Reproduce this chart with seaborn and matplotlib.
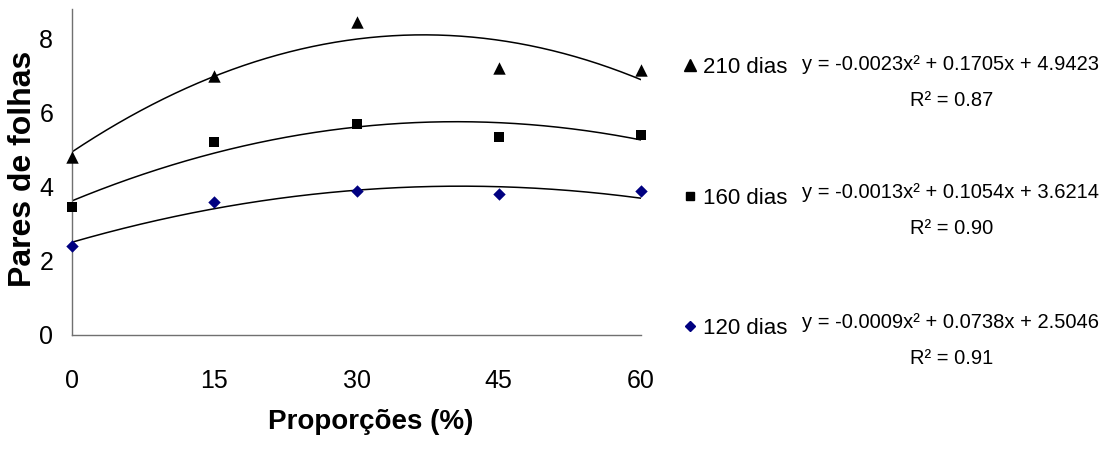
import matplotlib
matplotlib.use("Agg")
import matplotlib.pyplot as plt
from matplotlib.lines import Line2D
import numpy as np
import pandas as pd
import seaborn as sns

# Proportions (%) on the x axis
proporcoes = [0, 15, 30, 45, 60]

# Mean number of leaf pairs at each evaluation date
folhas_210 = [4.8, 7.0, 8.45, 7.2, 7.15]
folhas_160 = [3.45, 5.2, 5.7, 5.35, 5.4]
folhas_120 = [2.4, 3.6, 3.9, 3.8, 3.9]

# Quadratic fit coefficients (a, b, c) for y = a*x^2 + b*x + c, and R^2
coef_210 = [-0.0023, 0.1705, 4.9423]
coef_160 = [-0.0013, 0.1054, 3.6214]
coef_120 = [-0.0009, 0.0738, 2.5046]
r2_values = [0.87, 0.90, 0.91]

series_labels = ["210 dias", "160 dias", "120 dias"]
y_ticks = [0, 2, 4, 6, 8]

sns.set_theme(style="white")
plt.rcParams["font.family"] = ["Liberation Sans", "DejaVu Sans"]
plt.rcParams["text.color"] = "black"
plt.rcParams["axes.labelcolor"] = "black"

W, H = 1109, 455
fig = plt.figure(figsize=(W / 100, H / 100), dpi=100)
ax = fig.add_axes([72 / W, (H - 335) / H, (641 - 72) / W, (335 - 9) / H])

series = [
    ("210 dias", folhas_210, coef_210, "^", "black", 80),
    ("160 dias", folhas_160, coef_160, "s", "black", 48),
    ("120 dias", folhas_120, coef_120, "D", "#000080", 40),
]

# Fitted quadratic trend lines
xs = np.linspace(0, 60, 200)
for label, vals, coef, marker, color, size in series:
    a, b, c = coef
    fit = pd.DataFrame({"x": xs, "y": a * xs ** 2 + b * xs + c})
    sns.lineplot(data=fit, x="x", y="y", ax=ax, color="black", lw=1.1,
                 legend=False)

# Observed means
for label, vals, coef, marker, color, size in series:
    df = pd.DataFrame({"x": proporcoes, "y": vals})
    sns.scatterplot(data=df, x="x", y="y", ax=ax, marker=marker, color=color,
                    s=size, linewidth=0, clip_on=False, zorder=5, legend=False)

ax.set_xlim(0, 60)
ax.set_ylim(0, 8.8)
ax.set_xticks(proporcoes)
ax.set_yticks(y_ticks)
ax.set_xticklabels([str(v) for v in proporcoes])
ax.set_yticklabels([str(v) for v in y_ticks])

for side in ("top", "right"):
    ax.spines[side].set_visible(False)
for side in ("left", "bottom"):
    ax.spines[side].set_color("#707070")
    ax.spines[side].set_linewidth(1.0)

ax.tick_params(axis="both", which="major", direction="out", colors="#707070",
               labelcolor="black", labelsize=18, width=1.0)
ax.tick_params(axis="y", length=6.5, pad=7)
ax.tick_params(axis="x", length=7.2, pad=17)
ax.grid(False)

ax.set_xlabel("Proporções (%)", fontsize=20, fontweight="bold", va="center")
ax.xaxis.set_label_coords((371 - 72) / 569, -(422 - 335) / 326)
ax.set_ylabel("Pares de folhas", fontsize=23, fontweight="bold", va="center")
ax.yaxis.set_label_coords((23 - 72) / 569, (335 - 169) / 326)

# Legend keys
handles = [
    Line2D([], [], ls="none", marker="^", color="black", markersize=8),
    Line2D([], [], ls="none", marker="s", color="black", markersize=6),
    Line2D([], [], ls="none", marker="D", color="#000080", markersize=5.5),
]
leg = ax.legend(handles, series_labels, loc="upper left",
                bbox_to_anchor=(682 / W, 1 - 57 / H),
                bbox_transform=fig.transFigure, frameon=False,
                fontsize=16, labelspacing=4.93, handlelength=0.7,
                handletextpad=0.25, borderpad=0, borderaxespad=0)

# Fit equations beside each legend entry
eq_rows = [65, 192, 322]
for coef, r2, yrow in zip([coef_210, coef_160, coef_120], r2_values, eq_rows):
    a, b, c = coef
    eq = f"y = {a:.4f}x² + {b:.4f}x + {c:.4f}"
    fig.text(951 / W, 1 - yrow / H, eq, ha="center", va="center", fontsize=14.5)
    fig.text(952 / W, 1 - (yrow + 36) / H, f"R² = {r2:.2f}", ha="center",
             va="center", fontsize=14.5)

fig.savefig("out.png", dpi=100)
